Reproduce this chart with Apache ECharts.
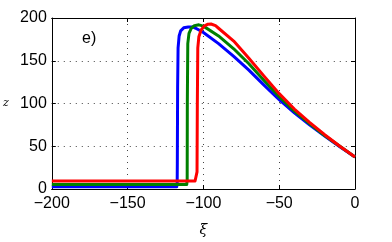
<!DOCTYPE html>
<html>
<head>
<meta charset="utf-8">
<script src="https://cdn.jsdelivr.net/npm/echarts@6/dist/echarts.min.js"></script>
<style>
  html, body { margin: 0; padding: 0; background: #fff; }
  #chart { width: 392px; height: 242px; }
</style>
</head>
<body>
<div id="chart"></div>
<script>
// axis ticks
const xTicks = [-200, -150, -100, -50, 0]
const yTicks = [0, 50, 100, 150, 200]

// curves: [xi, z]
const blueData = [
  [-200, 2.6], [-117.6, 2.6], [-117.3, 6], [-117.2, 30], [-117, 120], [-116.7, 165],
  [-116, 179], [-115, 185], [-113, 188.5], [-110, 189.5], [-107, 189.5], [-105, 188],
  [-100, 183], [-90, 170], [-80, 155], [-70, 139], [-60, 121.5], [-50, 104.5],
  [-40, 89], [-30, 75], [-20, 62], [-10, 49.5], [0, 37.5]
]
const greenData = [
  [-200, 5.3], [-111, 5.3], [-110.7, 10], [-110.6, 100], [-110.3, 170], [-109.5, 182],
  [-108, 188], [-106, 191], [-103, 192], [-100, 190.5], [-90, 179], [-80, 164],
  [-70, 146.5], [-60, 127], [-50, 108], [-40, 91], [-30, 76.5], [-20, 62.5],
  [-10, 50], [0, 37.5]
]
const redData = [
  [-200, 9.4], [-105.5, 9.4], [-104.5, 11], [-104.2, 20], [-104, 100], [-103.7, 165],
  [-103, 178], [-101.5, 186], [-99.5, 190.5], [-97, 192.8], [-95, 193], [-92, 191],
  [-90, 188], [-80, 173], [-70, 153], [-60, 132], [-50, 111.5], [-40, 93.5],
  [-30, 78], [-20, 63.5], [-10, 50], [0, 37.5]
]

const chart = echarts.init(document.getElementById('chart'))

const fmt = v => String(v).replace('-', '\u2212')
const dotted = { show: true, lineStyle: { color: '#444', type: [1, 5], width: 1 } }
const frame = { show: true, onZero: false, lineStyle: { color: '#000', width: 1 } }
const tick = { show: true, inside: true, length: 4, lineStyle: { color: '#000' } }

const line = (data, color) => ({
  type: 'line',
  data: data,
  showSymbol: false,
  symbol: 'none',
  lineStyle: { color: color, width: 3, join: 'round' },
  animation: false
})

chart.setOption({
  animation: false,
  grid: { left: 51, right: 37, top: 18, bottom: 48 },
  xAxis: [
    {
      type: 'value', min: xTicks[0], max: xTicks[xTicks.length - 1], interval: 50,
      axisLine: frame, axisTick: tick, splitLine: dotted,
      axisLabel: { formatter: fmt, color: '#000', fontSize: 16, fontFamily: 'Liberation Sans', margin: 7 },
      name: 'ξ', nameLocation: 'middle', nameGap: 34,
      nameTextStyle: { fontFamily: 'DejaVu Serif', fontStyle: 'italic', fontSize: 14, color: '#000' }
    },
    {
      type: 'value', position: 'top', min: -200, max: 0, interval: 50,
      axisLine: frame, axisTick: tick, splitLine: { show: false }, axisLabel: { show: false }
    }
  ],
  yAxis: [
    {
      type: 'value', min: yTicks[0], max: yTicks[yTicks.length - 1], interval: 50,
      axisLine: frame, axisTick: tick, splitLine: dotted,
      axisLabel: { color: '#000', fontSize: 16, fontFamily: 'Liberation Sans', margin: 5 },
      name: 'z', nameLocation: 'middle', nameGap: 43, nameRotate: 0,
      nameTextStyle: { fontFamily: 'DejaVu Serif', fontStyle: 'italic', fontSize: 11, color: '#000' }
    },
    {
      type: 'value', position: 'right', min: 0, max: 200, interval: 50,
      axisLine: frame, axisTick: tick, splitLine: { show: false }, axisLabel: { show: false }
    }
  ],
  graphic: [
    {
      type: 'text', left: 82, top: 31,
      style: { text: 'e)', fontSize: 16, fontFamily: 'Liberation Sans', fill: '#000' }
    }
  ],
  series: [
    line(blueData, '#0000ff'),
    line(greenData, '#008000'),
    line(redData, '#ff0000')
  ]
})
</script>
</body>
</html>
